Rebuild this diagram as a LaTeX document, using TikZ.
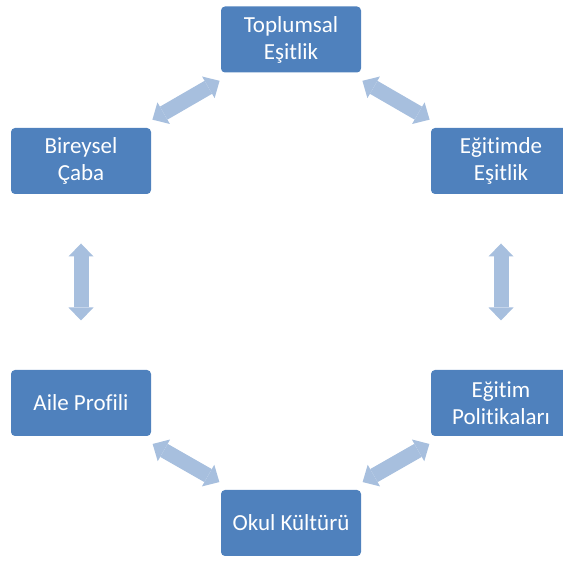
\documentclass[tikz,border=0pt]{standalone}
\usepackage{fontspec}
\setmainfont{Carlito}[Ligatures=NoCommon]
\usetikzlibrary{arrows.meta,positioning}
\definecolor{boxblue}{RGB}{79,129,189}
\definecolor{arrblue}{RGB}{167,191,222}
\tikzset{blk/.style={fill=boxblue, text=white, rounded corners=4pt, minimum width=140pt, minimum height=66pt, align=center, font=\fontsize{23}{27}\selectfont}}
\tikzstyle{dbl}=[arrblue, line width=15pt, {Triangle[width=25pt,length=13pt,line width=0pt]}-{Triangle[width=25pt,length=13pt,line width=0pt]}, shorten >=82.5pt, shorten <=82.5pt]

\begin{document}
\begin{tikzpicture}[x=1pt, y=1pt, node distance=242pt]
\useasboundingbox (0,0) rectangle (563,561);
\clip (0,0) rectangle (563,561);
\node[blk] (T) at (291,521.5) {Toplumsal\\Eşitlik};
\node[blk] (B) at (81,400) {Bireysel\\Çaba};
\node[blk] (E) at (501,400) {Eğitimde\\Eşitlik};
\node[blk][below of =B] (A) {Aile Profili};
\node[blk][below of =E] (P) {Eğitim\\Politikaları};
\node[blk] (O) at (291,38) {Okul Kültürü};
\draw[dbl] (B.center) -- (T.center);
\draw[dbl] (T.center) -- (E.center);
\draw[dbl] (B.center) -- (A.center);
\draw[dbl] (E.center) -- (P.center);
\draw[dbl] (A.center) -- (O.center);
\draw[dbl] (O.center) -- (P.center);
\end{tikzpicture}
\end{document}
